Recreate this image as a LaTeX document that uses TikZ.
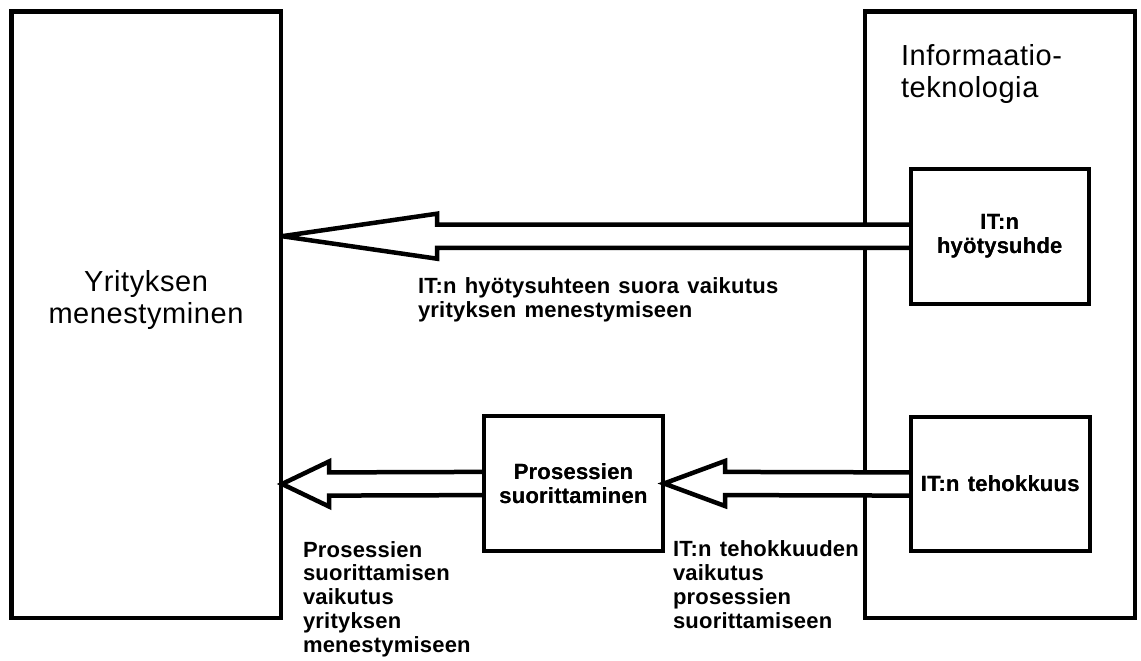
\documentclass[tikz,border=0pt]{standalone}
\usepackage{fontspec}
\setmainfont{Liberation Sans}
\newfontfamily\labelfont[LetterSpace=1,WordSpace=1.3]{Liberation Sans Bold}
\newfontfamily\titlefont[LetterSpace=2]{Liberation Sans}
\usetikzlibrary{calc}
\begin{document}
\begin{tikzpicture}[x=1pt,y=-1pt,
  bigbox/.style={draw=black,line width=4.5pt,inner sep=0pt,outer sep=0pt},
  smallbox/.style={draw=black,line width=4pt,inner sep=0pt,outer sep=0pt,
    align=center,font=\labelfont\fontsize{22}{24}\selectfont},
  bigtext/.style={inner sep=0pt,outer sep=0pt,font=\titlefont\fontsize{29}{32}\selectfont},
  lbl/.style={inner sep=0pt,outer sep=0pt,align=left,anchor=base west,
    font=\labelfont\fontsize{22}{23.75}\selectfont},
  blockarrow/.style={draw=black,fill=white,line width=4.5pt,line join=miter,miter limit=3}]
\useasboundingbox (0,0) rectangle (1141,661);

% outer boxes
\node[bigbox,minimum width=269.5pt,minimum height=606.7pt,anchor=north west] (yri) at (11.5,11.3) {};
\node[bigbox,minimum width=270pt,minimum height=606.7pt,anchor=north west] (it) at (865,11.3) {};

% inner boxes (placed first so the arrows can refer to them)
\node[smallbox,minimum width=178.5pt,minimum height=135pt,anchor=north west] (hyo) at (910.5,168.7) {IT:n\\hyötysuhde};
\node[smallbox,minimum width=179.5pt,minimum height=134pt,anchor=north west] (teh) at (910.5,417) {IT:n tehokkuus};
\node[smallbox,minimum width=179pt,minimum height=135pt,anchor=north west] (pro) at (484,416) {Prosessien\\suorittaminen};

% hollow block arrow: tail anchor, tip point, head length
\newcommand\hollowarrow[3]{%
  \filldraw[blockarrow]
    ($(#1)+(0,-11.6)$) -- ($(#2)+(#3,-11.6)$) -- ($(#2)+(#3,-22.5)$) -- (#2)
    -- ($(#2)+(#3,22.5)$) -- ($(#2)+(#3,11.6)$) -- ($(#1)+(0,11.6)$);}

\coordinate (tipA) at ($(yri.east |- hyo.west)+(1,0)$);
\coordinate (tipB) at ($(yri.east |- teh.west)+(1,0)$);
\coordinate (tipC) at ($(pro.east)+(1,0)$);
\hollowarrow{hyo.west}{tipA}{155}
\hollowarrow{pro.west}{tipB}{47}
\hollowarrow{teh.west}{tipC}{61}

% redraw inner boxes over the arrow tails
\node[smallbox,minimum width=178.5pt,minimum height=135pt,anchor=north west] at (910.5,168.7) {IT:n\\hyötysuhde};
\node[smallbox,minimum width=179.5pt,minimum height=134pt,anchor=north west] at (910.5,417) {IT:n tehokkuus};
\node[smallbox,minimum width=179pt,minimum height=135pt,anchor=north west] at (484,416) {Prosessien\\suorittaminen};

% titles
\node[bigtext,align=center] (yrit) at (146,300) {Yrityksen\\menestyminen};
\node[bigtext,align=left,anchor=base west] (itt) at (901,97) {Informaatio-\\teknologia};

% arrow labels (anchored at the baseline of their last line)
\node[lbl] (labA) at (418,317) {IT:n hyötysuhteen suora vaikutus\\yrityksen menestymiseen};
\node[lbl] (labB) at (303,652) {Prosessien\\suorittamisen\\vaikutus\\yrityksen\\menestymiseen};
\node[lbl] (labC) at (673,628) {IT:n tehokkuuden\\vaikutus\\prosessien\\suorittamiseen};
\end{tikzpicture}
\end{document}
